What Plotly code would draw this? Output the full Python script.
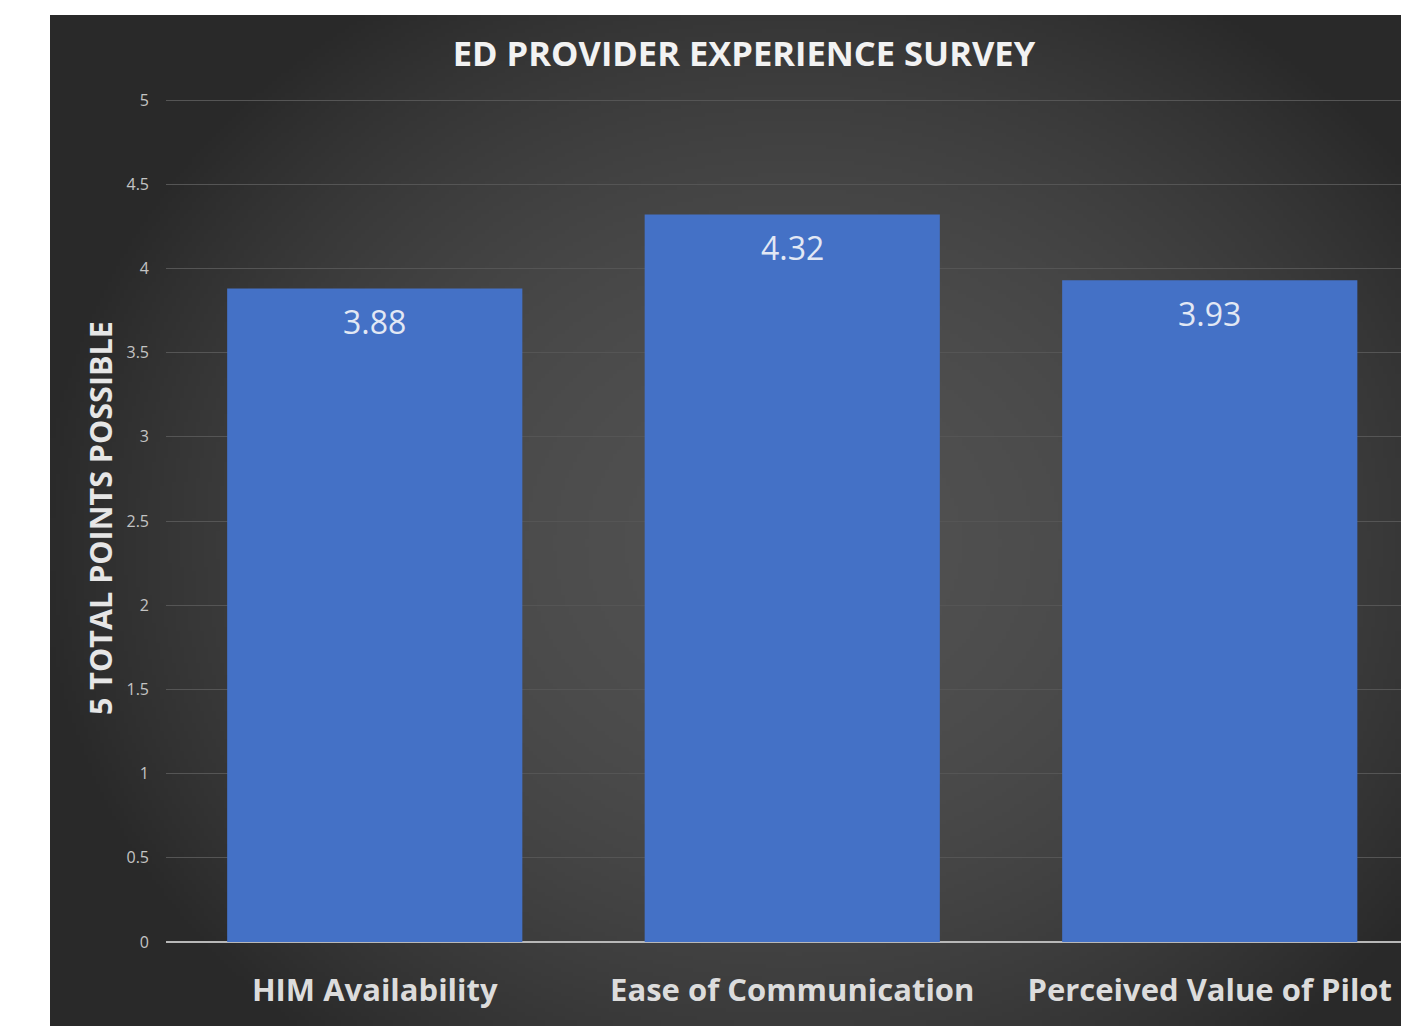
import base64
import struct
import zlib

import numpy as np
import plotly.graph_objects as go

# ---- data ----
categories = ["HIM Availability", "Ease of Communication", "Perceived Value of Pilot"]
scores = [3.88, 4.32, 3.93]
y_ticks = [0, 0.5, 1, 1.5, 2, 2.5, 3, 3.5, 4, 4.5, 5]
y_tick_labels = ["0", "0.5", "1", "1.5", "2", "2.5", "3", "3.5", "4", "4.5", "5"]
title_text = "ED PROVIDER EXPERIENCE SURVEY"
y_title_text = "5 TOTAL POINTS POSSIBLE"

# ---- page geometry (pixels) ----
W, H = 1401, 1026
YMAX = 5.012
PL, PR, PB = 166, 1401, 942           # plot area
PT = round(PB - (PB - 100) * YMAX / 5)  # so that y=5 sits at pixel 100
BG_L, BG_T = 50, 15                   # dark chart area origin


def png_data_uri(arr):
    h, w, _ = arr.shape
    raw = b"".join(b"\x00" + arr[r].tobytes() for r in range(h))

    def chunk(tag, data):
        c = struct.pack(">I", len(data)) + tag + data
        return c + struct.pack(">I", zlib.crc32(tag + data) & 0xFFFFFFFF)

    png = b"\x89PNG\r\n\x1a\n"
    png += chunk(b"IHDR", struct.pack(">IIBBBBB", w, h, 8, 2, 0, 0, 0))
    png += chunk(b"IDAT", zlib.compress(raw, 9))
    png += chunk(b"IEND", b"")
    return "data:image/png;base64," + base64.b64encode(png).decode()


# radial background gradient of the dark chart area
bw, bh = W - BG_L, H - BG_T
sc = 4
gw, gh = bw // sc, bh // sc
xs = (np.arange(gw) * sc + BG_L)
ys = (np.arange(gh) * sc + BG_T)
X, Y = np.meshgrid(xs, ys)
cx, cy, ax, ay = 790, 540, 760, 650
d2 = ((X - cx) / ax) ** 2 + ((Y - cy) / ay) ** 2
t = np.clip(1 - d2, 0, 1)
val = 41 + 40 * t
img = np.clip(np.stack([val, val, val], axis=-1), 0, 255).astype(np.uint8)
bg_uri = png_data_uri(img)

pw, ph = PR - PL, PB - PT


def px_to_paper_x(px):
    return (px - PL) / pw


def px_to_paper_y(py):
    return (PB - py) / ph


fig = go.Figure()
fig.add_trace(go.Bar(
    x=categories,
    y=scores,
    width=0.707,
    marker=dict(color="#4471c6", line=dict(width=0)),
    hoverinfo="x+y",
))

for c, v in zip(categories, scores):
    fig.add_annotation(
        x=c, y=v, xref="x", yref="y",
        text=f"{v:.2f}", showarrow=False,
        yanchor="middle", yshift=-33,
        font=dict(family="Open Sans", size=32, color="#e2e8f4"),
    )

fig.add_annotation(
    x=px_to_paper_x(100), y=px_to_paper_y(518), xref="paper", yref="paper",
    text=f"<b>{y_title_text}</b>", showarrow=False, textangle=-90,
    xanchor="center", yanchor="middle",
    font=dict(family="Open Sans", size=30.5, color="#e6e6e6"),
)

fig.add_layout_image(
    source=bg_uri, xref="paper", yref="paper",
    x=px_to_paper_x(BG_L), y=px_to_paper_y(BG_T),
    sizex=(W - BG_L) / pw, sizey=(H - BG_T) / ph,
    xanchor="left", yanchor="top", sizing="stretch", layer="below",
)

fig.update_layout(
    width=W, height=H,
    margin=dict(l=PL, r=W - PR, t=PT, b=H - PB, pad=0),
    paper_bgcolor="white",
    plot_bgcolor="rgba(0,0,0,0)",
    showlegend=False,
    title=dict(
        text=f"<b>{title_text}</b>",
        x=px_to_paper_x(744), xref="paper", xanchor="center",
        y=1 - 54 / H, yref="container", yanchor="middle",
        font=dict(family="Open Sans", size=34.5, color="#f2f2f2"),
    ),
    xaxis=dict(
        type="category",
        range=[-0.5, 2.5 - (PL + 3 * 417.5 - PR) / 417.5],
        showgrid=False, zeroline=False,
        showline=False, ticks="",
        ticklabelstandoff=27,
        tickfont=dict(family="Open Sans", size=31, color="#dcdcdc", weight="bold"),
        fixedrange=True,
    ),
    yaxis=dict(
        range=[0, YMAX],
        tickvals=y_ticks, ticktext=y_tick_labels,
        showgrid=True, gridcolor="#555555", gridwidth=1.3,
        zeroline=True, zerolinecolor="#b8b8b8", zerolinewidth=2,
        showline=False, ticks="",
        ticklabelstandoff=16,
        tickfont=dict(family="Open Sans", size=16, color="#c4c4c4"),
        fixedrange=True,
    ),
)

fig.write_html("out.html")
